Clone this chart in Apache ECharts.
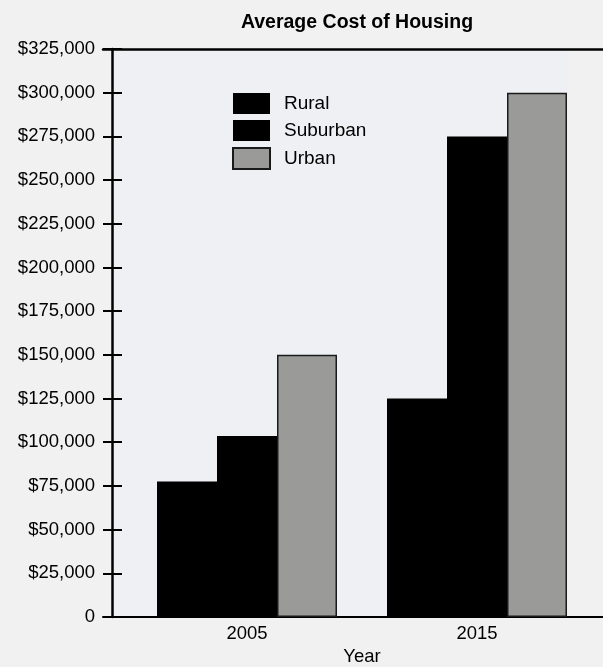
<!DOCTYPE html>
<html>
<head>
<meta charset="utf-8">
<script src="https://cdn.jsdelivr.net/npm/echarts@6/dist/echarts.min.js"></script>
<style>
html,body{margin:0;padding:0;background:#f1f1f1;}
#c{width:603px;height:667px;}
</style>
</head>
<body>
<div id="c"></div>
<script>
var categories = ['2005', '2015'];
var rural = [77500, 125000];
var suburban = [103500, 275000];
var urban = [150000, 300000];
var yMin = 0, yMax = 325000, yStep = 25000;

function fmt(v) {
  if (v === 0) return '0';
  return '$' + v.toLocaleString('en-US');
}

var FONT = '"Liberation Sans", Arial, Helvetica, sans-serif';
var chart = echarts.init(document.getElementById('c'));
chart.setOption({
  backgroundColor: '#f1f1f1',
  animation: false,
  textStyle: { fontFamily: FONT },
  title: {
    text: 'Average Cost of Housing',
    left: 352, top: 8, textAlign: 'center',
    textStyle: { fontFamily: FONT, fontSize: 19.5, fontWeight: 'bold', color: '#000' }
  },
  legend: {
    orient: 'vertical', left: 227, top: 88,
    itemWidth: 37, itemHeight: 21, itemGap: 6,
    icon: 'rect',
    textStyle: { fontFamily: FONT, fontSize: 19, lineHeight: 21, color: '#000', padding: [0, 0, 0, 9] },
    data: ['Rural', 'Suburban', 'Urban']
  },
  grid: [
    { left: 132, right: 11, top: 49, bottom: 50, outerBoundsMode: 'none' },
    { left: 103, right: 0, top: 49, bottom: 50, outerBoundsMode: 'none' },
    { left: 113, right: 35, top: 50, bottom: 51, show: true, backgroundColor: '#eff0f3', borderWidth: 0, z: -1, outerBoundsMode: 'none' }
  ],
  xAxis: [
    {
      type: 'category', gridIndex: 0, data: categories,
      axisLine: { show: false }, axisTick: { show: false },
      axisLabel: { fontFamily: FONT, fontSize: 18.5, color: '#000', margin: 7 },
      name: 'Year', nameLocation: 'middle', nameGap: 30,
      nameTextStyle: { fontFamily: FONT, fontSize: 18.5, color: '#000' }
    },
    {
      type: 'value', gridIndex: 1, position: 'bottom', min: 0, max: 1,
      axisLine: { show: true, onZero: false, lineStyle: { color: '#000', width: 2 } },
      axisTick: { show: false }, axisLabel: { show: false }, splitLine: { show: false }
    },
    {
      type: 'value', gridIndex: 1, position: 'top', min: 0, max: 1,
      axisLine: { show: true, onZero: false, lineStyle: { color: '#000', width: 2.5 } },
      axisTick: { show: false }, axisLabel: { show: false }, splitLine: { show: false }
    },
    {
      type: 'value', gridIndex: 2, min: 0, max: 1, show: false
    }
  ],
  yAxis: [
    {
      type: 'value', gridIndex: 0, position: 'left', min: yMin, max: yMax, interval: yStep, offset: 20, z: 5,
      axisLine: { show: true, lineStyle: { color: '#000', width: 2.5 } },
      axisTick: { show: false },
      axisLabel: { fontFamily: FONT, fontSize: 18.5, color: '#000', margin: 17, formatter: fmt },
      splitLine: { show: false }
    },
    {
      type: 'value', gridIndex: 1, position: 'left', min: yMin, max: yMax, interval: yStep, z: 5,
      axisLine: { show: false, onZero: false },
      axisTick: { show: true, inside: true, length: 19, lineStyle: { color: '#000', width: 2 } },
      axisLabel: { show: false }, splitLine: { show: false }
    },
    { type: 'value', gridIndex: 2, min: 0, max: 1, show: false }
  ],
  series: [
    { name: 'Rural', type: 'bar', xAxisIndex: 0, yAxisIndex: 0, data: rural,
      barWidth: 60, barGap: '0%', itemStyle: { color: '#000' } },
    { name: 'Suburban', type: 'bar', xAxisIndex: 0, yAxisIndex: 0, data: suburban,
      barWidth: 60, barGap: '0%', itemStyle: { color: '#000' } },
    { name: 'Urban', type: 'bar', xAxisIndex: 0, yAxisIndex: 0, data: urban,
      barWidth: 60, barGap: '0%', itemStyle: { color: '#9a9a98', borderColor: '#1a1a1a', borderWidth: 1.5 } }
  ]
});
</script>
</body>
</html>
